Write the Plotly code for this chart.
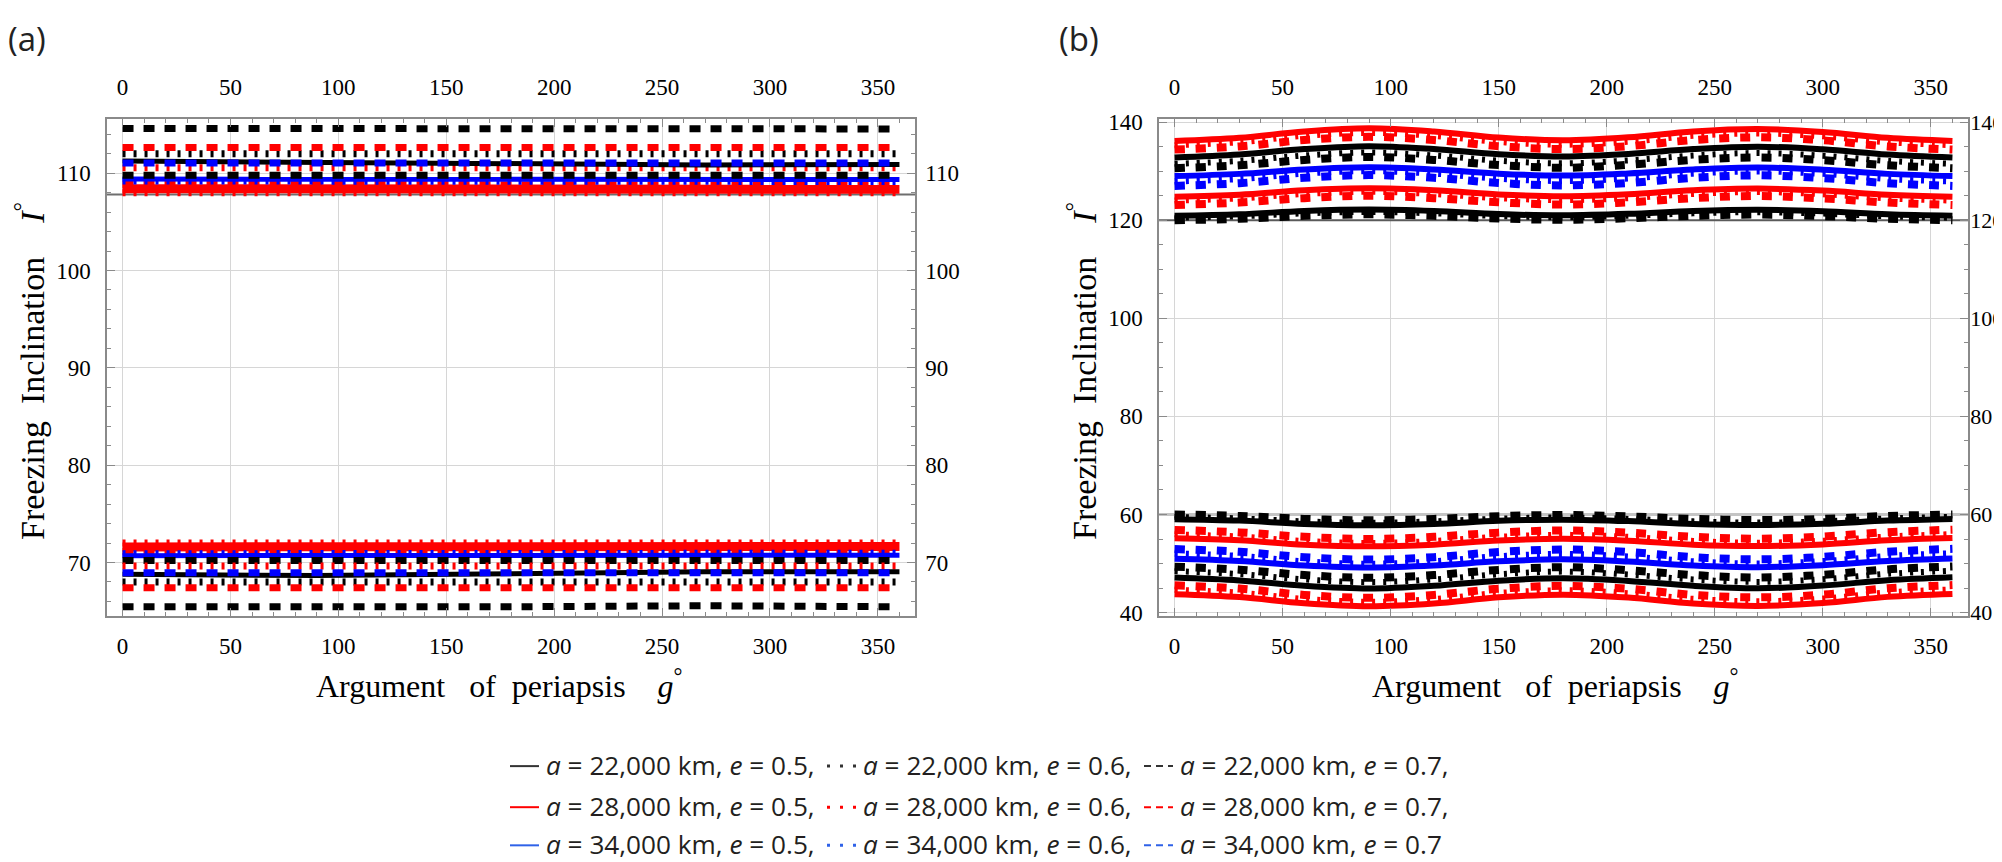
import plotly.graph_objects as go

W, H = 2002, 862

# ---------------- data ----------------
X_RANGE = [-7.2, 367.2]
X_TICKS = [0, 50, 100, 150, 200, 250, 300, 350]
YA_TICKS = [70, 80, 90, 100, 110]
YB_TICKS = [40, 60, 80, 100, 120, 140]
YA_RANGE = [64.55, 115.55]
YB_RANGE = [39.4, 140.6]

# panel (a): argument of periapsis samples
G_A = [0, 90, 180, 270, 360]
A_BLK_DASH_UP = [114.6, 114.6, 114.55, 114.45, 114.55]
A_BLK_DASH_LO = [65.45, 65.4, 65.45, 65.55, 65.45]
A_RED_DASH_UP = [112.65, 112.65, 112.6, 112.6, 112.65]
A_RED_DASH_LO = [67.4, 67.4, 67.4, 67.45, 67.4]
A_BLK_DOT_UP = [112.0, 112.0, 111.95, 111.95, 112.0]
A_BLK_DOT_LO = [68.0, 68.0, 68.05, 68.05, 68.0]
A_BLK_SOLID_UP = [111.25, 111.1, 110.9, 110.85, 110.9]
A_BLK_SOLID_LO = [68.8, 68.65, 68.85, 69.05, 69.05]
A_BLU_DASH_UP = [111.05, 111.05, 111.0, 111.0, 111.05]
A_BLU_DASH_LO = [68.95, 68.95, 69.0, 69.0, 68.95]
A_RED_DOT_UP = [110.55, 110.55, 110.5, 110.5, 110.55]
A_RED_DOT_LO = [69.65, 69.65, 69.7, 69.7, 69.65]
A_BLK_DASH2_UP = [109.8, 109.8, 109.75, 109.75, 109.8]
A_BLK_DASH2_LO = [70.2, 70.2, 70.25, 70.25, 70.2]
A_BLU_SOLID_UP = [109.4, 109.4, 109.35, 109.3, 109.35]
A_BLU_SOLID_LO = [70.7, 70.7, 70.75, 70.8, 70.75]
A_BLU_DOT_UP = [109.2, 109.2, 109.15, 109.1, 109.15]
A_BLU_DOT_LO = [70.9, 70.9, 70.95, 71.0, 70.95]
A_RED_DASH2_UP = [108.85, 108.85, 108.8, 108.75, 108.8]
A_RED_DASH2_LO = [71.15, 71.15, 71.2, 71.25, 71.2]
A_RED_SOLID_UP = [108.4, 108.4, 108.35, 108.3, 108.35]
A_RED_SOLID_LO = [71.6, 71.6, 71.65, 71.7, 71.65]
A_RED_DOT2_UP = [108.0, 108.0, 107.95, 107.95, 108.0]
A_RED_DOT2_LO = [72.0, 72.0, 72.05, 72.05, 72.0]
A_REF_LINES = [107.82]

# panel (b)
G_B = [0, 30, 60, 90, 120, 150, 180, 210, 240, 270, 300, 330, 360]
B_RED_SOLID_UP = [136.15, 136.8, 138.1, 138.75, 138.1, 136.85, 136.3, 136.9, 138.1, 138.6, 138.0, 136.8, 136.15]
B_RED_DOT_UP = [135.3, 135.9, 137.2, 137.8, 137.2, 135.95, 135.4, 136.0, 137.2, 137.7, 137.1, 135.9, 135.3]
B_RED_DASH_UP = [134.4, 135.05, 136.35, 137.0, 136.35, 135.1, 134.5, 135.1, 136.35, 136.9, 136.3, 135.05, 134.4]
B_BLK_SOLID_UP = [132.8, 133.4, 134.5, 135.1, 134.5, 133.45, 133.0, 133.5, 134.5, 135.0, 134.45, 133.4, 132.8]
B_BLK_DOT_UP = [131.5, 132.1, 133.2, 133.8, 133.2, 132.15, 131.6, 132.2, 133.2, 133.7, 133.15, 132.1, 131.5]
B_BLK_DASH_UP = [130.6, 131.2, 132.3, 132.9, 132.3, 131.25, 130.7, 131.3, 132.3, 132.8, 132.25, 131.2, 130.6]
B_BLU_SOLID_UP = [129.0, 129.45, 130.35, 130.8, 130.35, 129.5, 129.1, 129.55, 130.35, 130.75, 130.3, 129.45, 129.0]
B_BLU_DOT_UP = [127.9, 128.4, 129.5, 130.0, 129.5, 128.45, 128.0, 128.5, 129.5, 129.95, 129.45, 128.4, 127.9]
B_BLU_DASH_UP = [127.0, 127.55, 128.65, 129.2, 128.65, 127.6, 127.1, 127.6, 128.65, 129.15, 128.6, 127.55, 127.0]
B_RED_SOLID2_UP = [124.8, 125.2, 126.1, 126.5, 126.1, 125.25, 124.9, 125.3, 126.1, 126.45, 126.05, 125.2, 124.8]
B_RED_DOT2_UP = [124.0, 124.45, 125.35, 125.8, 125.35, 124.5, 124.1, 124.5, 125.35, 125.75, 125.3, 124.45, 124.0]
B_RED_DASH2_UP = [123.1, 123.6, 124.5, 125.0, 124.5, 123.65, 123.2, 123.65, 124.5, 124.95, 124.45, 123.6, 123.1]
B_BLK_SOLID2_UP = [120.9, 121.2, 121.9, 122.2, 121.9, 121.25, 121.0, 121.3, 121.9, 122.15, 121.85, 121.2, 120.9]
B_BLK_DOT2_UP = [120.5, 120.8, 121.4, 121.7, 121.4, 120.85, 120.6, 120.9, 121.4, 121.65, 121.35, 120.8, 120.5]
B_BLK_DASH2_UP = [120.0, 120.3, 120.9, 121.2, 120.9, 120.35, 120.1, 120.4, 120.9, 121.15, 120.85, 120.3, 120.0]

B_RED_SOLID_LO = [43.75, 43.15, 41.9, 41.3, 41.85, 43.1, 43.65, 43.05, 41.85, 41.35, 41.95, 43.2, 43.8]
B_RED_DOT_LO = [44.65, 44.05, 42.8, 42.2, 42.75, 44.0, 44.55, 43.95, 42.8, 42.3, 42.85, 44.1, 44.7]
B_RED_DASH_LO = [45.55, 44.9, 43.6, 43.0, 43.6, 44.85, 45.45, 44.85, 43.6, 43.1, 43.65, 44.95, 45.6]
B_BLK_SOLID_LO = [47.15, 46.55, 45.45, 44.9, 45.45, 46.5, 47.0, 46.45, 45.45, 44.95, 45.5, 46.6, 47.2]
B_BLK_DOT_LO = [48.45, 47.85, 46.75, 46.2, 46.75, 47.8, 48.35, 47.75, 46.75, 46.25, 46.8, 47.9, 48.5]
B_BLK_DASH_LO = [49.35, 48.75, 47.65, 47.1, 47.65, 48.7, 49.25, 48.65, 47.65, 47.15, 47.7, 48.8, 49.4]
B_BLU_SOLID_LO = [50.95, 50.5, 49.6, 49.2, 49.6, 50.45, 50.85, 50.4, 49.6, 49.25, 49.65, 50.5, 51.0]
B_BLU_DOT_LO = [52.05, 51.55, 50.45, 49.95, 50.45, 51.5, 51.95, 51.45, 50.45, 50.0, 50.5, 51.55, 52.1]
B_BLU_DASH_LO = [52.95, 52.4, 51.3, 50.8, 51.3, 52.35, 52.85, 52.35, 51.3, 50.85, 51.35, 52.4, 53.0]
B_RED_SOLID2_LO = [55.15, 54.75, 53.85, 53.5, 53.85, 54.7, 55.05, 54.65, 53.85, 53.55, 53.9, 54.75, 55.2]
B_RED_DOT2_LO = [55.95, 55.5, 54.6, 54.2, 54.6, 55.45, 55.85, 55.45, 54.6, 54.25, 54.65, 55.5, 56.0]
B_RED_DASH2_LO = [56.85, 56.35, 55.45, 55.0, 55.45, 56.3, 56.75, 56.3, 55.45, 55.05, 55.5, 56.4, 56.9]
B_BLK_SOLID2_LO = [59.05, 58.75, 58.05, 57.8, 58.05, 58.7, 58.95, 58.65, 58.05, 57.85, 58.1, 58.75, 59.1]
B_BLK_DOT2_LO = [59.5, 59.2, 58.6, 58.3, 58.6, 59.15, 59.4, 59.1, 58.6, 58.35, 58.6, 59.2, 59.5]
B_BLK_DASH2_LO = [60.0, 59.7, 59.1, 58.8, 59.1, 59.65, 59.9, 59.6, 59.1, 58.85, 59.1, 59.7, 60.0]
B_REF_LINES = [120, 60]

LEG_A = ["22,000", "28,000", "34,000"]
LEG_E = ["0.5", "0.6", "0.7"]

# ---------------- styles ----------------
BLACK, RED, BLUE = "#000000", "#ff0000", "#0000ff"
STY_A = {
    "solid": dict(width=5, dash="solid"),
    "dash": dict(width=7, dash="11px,10px"),
    "dot": dict(width=7, dash="3px,8px"),
    "thick": dict(width=9, dash="solid"),
}
STY_B = {
    "solid": dict(width=6, dash="solid"),
    "dash": dict(width=8, dash="10px,11px"),
    "dot": dict(width=6, dash="3px,8px"),
}

panel_a = [
    (A_RED_SOLID_UP, A_RED_SOLID_LO, RED, "thick"),
    (A_RED_DASH2_UP, A_RED_DASH2_LO, RED, "dash"),
    (A_RED_DOT2_UP, A_RED_DOT2_LO, RED, "dot"),
    (A_BLU_DOT_UP, A_BLU_DOT_LO, BLUE, "dot"),
    (A_BLU_SOLID_UP, A_BLU_SOLID_LO, BLUE, "solid"),
    (A_BLK_DASH2_UP, A_BLK_DASH2_LO, BLACK, "dash"),
    (A_RED_DOT_UP, A_RED_DOT_LO, RED, "dot"),
    (A_BLK_SOLID_UP, A_BLK_SOLID_LO, BLACK, "solid"),
    (A_BLU_DASH_UP, A_BLU_DASH_LO, BLUE, "dash"),
    (A_BLK_DOT_UP, A_BLK_DOT_LO, BLACK, "dot"),
    (A_RED_DASH_UP, A_RED_DASH_LO, RED, "dash"),
    (A_BLK_DASH_UP, A_BLK_DASH_LO, BLACK, "dash"),
]
panel_b = [
    (B_RED_DASH_UP, B_RED_DASH_LO, RED, "dash"),
    (B_RED_DOT_UP, B_RED_DOT_LO, RED, "dot"),
    (B_RED_SOLID_UP, B_RED_SOLID_LO, RED, "solid"),
    (B_BLK_DASH_UP, B_BLK_DASH_LO, BLACK, "dash"),
    (B_BLK_DOT_UP, B_BLK_DOT_LO, BLACK, "dot"),
    (B_BLK_SOLID_UP, B_BLK_SOLID_LO, BLACK, "solid"),
    (B_BLU_DASH_UP, B_BLU_DASH_LO, BLUE, "dash"),
    (B_BLU_DOT_UP, B_BLU_DOT_LO, BLUE, "dot"),
    (B_BLU_SOLID_UP, B_BLU_SOLID_LO, BLUE, "solid"),
    (B_RED_DASH2_UP, B_RED_DASH2_LO, RED, "dash"),
    (B_RED_DOT2_UP, B_RED_DOT2_LO, RED, "dot"),
    (B_RED_SOLID2_UP, B_RED_SOLID2_LO, RED, "solid"),
    (B_BLK_DASH2_UP, B_BLK_DASH2_LO, BLACK, "dash"),
    (B_BLK_DOT2_UP, B_BLK_DOT2_LO, BLACK, "dot"),
    (B_BLK_SOLID2_UP, B_BLK_SOLID2_LO, BLACK, "solid"),
]

fig = go.Figure()

# reference (darker) horizontal lines spanning the frame
for v in A_REF_LINES:
    fig.add_trace(go.Scatter(x=X_RANGE, y=[v, v], mode="lines", xaxis="x", yaxis="y",
                             line=dict(color="#6e6e6e", width=2), showlegend=False, hoverinfo="skip"))
for v, c, w in zip(B_REF_LINES, ["#5a5a5a", "#c4c4c4"], [1.8, 3]):
    fig.add_trace(go.Scatter(x=X_RANGE, y=[v, v], mode="lines", xaxis="x2", yaxis="y2",
                             line=dict(color=c, width=w), showlegend=False, hoverinfo="skip"))

for up, lo, col, sty in panel_a:
    for ys in (up, lo):
        fig.add_trace(go.Scatter(x=G_A, y=ys, mode="lines", xaxis="x", yaxis="y",
                                 line=dict(color=col, **STY_A[sty]), showlegend=False, hoverinfo="skip"))
for up, lo, col, sty in panel_b:
    for ys in (up, lo):
        fig.add_trace(go.Scatter(x=G_B, y=ys, mode="lines", xaxis="x2", yaxis="y2",
                                 line=dict(color=col, shape="spline", smoothing=1.0, **STY_B[sty]),
                                 showlegend=False, hoverinfo="skip"))

# invisible anchors so the mirrored (top / right) label axes get drawn
for xa, ya, xr, yr in (("x3", "y", X_RANGE, YA_RANGE), ("x", "y3", X_RANGE, YA_RANGE),
                       ("x4", "y2", X_RANGE, YB_RANGE), ("x2", "y4", X_RANGE, YB_RANGE)):
    fig.add_trace(go.Scatter(x=xr, y=yr, mode="markers", xaxis=xa, yaxis=ya,
                             marker=dict(size=1, opacity=0), showlegend=False, hoverinfo="skip"))

# ---------------- axes ----------------
FRAME = "#8a8a8a"
GRID = "#d6d6d6"
TICKFONT = dict(family="Liberation Serif", size=23, color="black")
TICKFONT_R = dict(family="Liberation Serif", size=22, color="black")

XA_DOM = [99 / W, 907 / W]
XB_DOM = [1151 / W, 1960 / W]
Y_DOM = [1 - 612 / H, 1 - 104.5 / H]


def xaxis(domain, anchor, side, grid, overlay=None, standoff=10):
    d = dict(range=X_RANGE, tickvals=X_TICKS, ticks="inside", ticklen=8, tickwidth=1,
             tickcolor=FRAME, showline=True, linecolor=FRAME, linewidth=1.5,
             showgrid=grid, gridcolor=GRID, gridwidth=1, zeroline=False,
             tickfont=TICKFONT, side=side, anchor=anchor, ticklabelstandoff=standoff,
             minor=dict(dtick=10, tick0=0, ticks="inside", ticklen=4, tickcolor=FRAME, showgrid=False),
             fixedrange=True)
    if overlay:
        d["overlaying"] = overlay
    else:
        d["domain"] = domain
    return d


def yaxis(rng, tickvals, minor, anchor, side, grid, overlay=None, standoff=10, font=TICKFONT):
    d = dict(range=rng, tickvals=tickvals, ticks="inside", ticklen=8, tickwidth=1,
             tickcolor=FRAME, showline=True, linecolor=FRAME, linewidth=1.5,
             showgrid=grid, gridcolor=GRID, gridwidth=1, zeroline=False,
             tickfont=font, side=side, anchor=anchor, ticklabelstandoff=standoff,
             minor=dict(dtick=minor, tick0=0, ticks="inside", ticklen=4, tickcolor=FRAME, showgrid=False),
             fixedrange=True)
    if overlay:
        d["overlaying"] = overlay
    else:
        d["domain"] = Y_DOM
    return d


fig.update_layout(
    xaxis=xaxis(XA_DOM, "y", "bottom", True, standoff=9),
    yaxis=yaxis(YA_RANGE, YA_TICKS, 2, "x", "left", True, standoff=10),
    xaxis2=xaxis(XB_DOM, "y2", "bottom", True, standoff=9),
    yaxis2=yaxis(YB_RANGE, YB_TICKS, 5, "x2", "left", True, standoff=10),
    xaxis3=xaxis(XA_DOM, "y", "top", False, overlay="x", standoff=13),
    yaxis3=yaxis(YA_RANGE, YA_TICKS, 2, "x", "right", False, overlay="y", standoff=4),
    xaxis4=xaxis(XB_DOM, "y2", "top", False, overlay="x2", standoff=13),
    yaxis4=yaxis(YB_RANGE, YB_TICKS, 5, "x2", "right", False, overlay="y2", standoff=-4, font=TICKFONT_R),
)

# ---------------- annotations ----------------
ann = []
TITLE_FONT = dict(family="Liberation Serif", size=32, color="black")
YT_FONT = dict(family="Liberation Serif", size=34, color="black")
NB = "\u00a0"
xt = f"Argument{NB*3}of{NB*2}periapsis{NB*4}<i>g</i><sup>°</sup>"
yt = f"Freezing{NB*2}Inclination{NB*4}<i>I</i><sup>°</sup>"
for cx in (491, 1547):
    ann.append(dict(x=cx / W, y=1 - 682 / H, xref="paper", yref="paper", text=xt, showarrow=False,
                    font=TITLE_FONT, xanchor="center", yanchor="middle"))
for cx in (22, 1074):
    ann.append(dict(x=cx / W, y=1 - 362 / H, xref="paper", yref="paper", text=yt, showarrow=False,
                    font=YT_FONT, textangle=-90, xanchor="center", yanchor="middle"))
PANEL_FONT = dict(family="Open Sans", size=33, color="#222222")
ann.append(dict(x=-2 / W, y=1 - 22 / H, xref="paper", yref="paper", text="(a)", showarrow=False,
                font=PANEL_FONT, xanchor="left", yanchor="middle"))
ann.append(dict(x=1049 / W, y=1 - 22 / H, xref="paper", yref="paper", text="(b)", showarrow=False,
                font=PANEL_FONT, xanchor="left", yanchor="middle"))

# legend (three rows x three columns)
LEG_FONT = dict(family="Open Sans", size=26.2, color="#231f20")
LEG_COLORS = ["#333333", "#ff0000", "#2f62e8"]
SYM_DASH = ["solid", "3px,10px", "7px,5px"]
SYM_WIDTH = [2, 3, 2]
ROW_Y = [765, 807, 846]
COL_X = [502, 819, 1136]
shapes = []
for r, a_txt in enumerate(LEG_A):
    for c, e_txt in enumerate(LEG_E):
        x0 = COL_X[c]
        y = ROW_Y[r]
        shapes.append(dict(type="line", xref="paper", yref="paper",
                           x0=x0 / W, x1=(x0 + 29) / W, y0=1 - (y + 1) / H, y1=1 - (y + 1) / H,
                           line=dict(color=LEG_COLORS[r], width=SYM_WIDTH[c], dash=SYM_DASH[c])))
        tail = "," if not (r == 2 and c == 2) else ""
        ann.append(dict(x=(x0 + 34) / W, y=1 - y / H, xref="paper", yref="paper",
                        text=f"<i>a</i> = {a_txt} km, <i>e</i> = {e_txt}{tail}", showarrow=False,
                        font=LEG_FONT, xanchor="left", yanchor="middle"))

fig.update_layout(
    width=W, height=H,
    margin=dict(l=0, r=0, t=0, b=0),
    paper_bgcolor="white", plot_bgcolor="white",
    showlegend=False,
    annotations=ann, shapes=shapes,
)

fig.write_html("out.html")
